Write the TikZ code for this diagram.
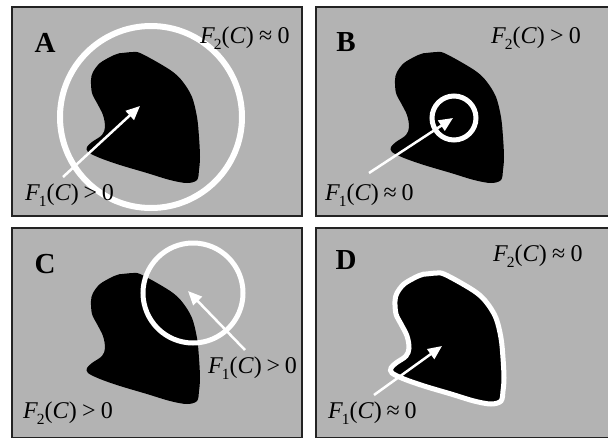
\documentclass[tikz,border=0pt]{standalone}
\usepackage{fontspec}
\setmainfont{Liberation Serif}
\usetikzlibrary{arrows.meta}
\definecolor{panelgray}{RGB}{179,179,179}
\definecolor{framedark}{RGB}{35,35,35}
\newcommand{\blobshape}[1]{\path[#1] plot[smooth cycle,tension=0.55] coordinates {(101,50) (106,48) (109,47) (111,47) (122,46) (129,47) (146,56) (162,66) (172,76) (181,91) (186,111) (188,131) (189,151) (188,164) (186,174) (176,177) (159,174) (136,167) (109,159) (89,152) (77,146) (76,141) (81,136) (91,129) (94,121) (92,109) (86,97) (81,87) (80,74) (82,66) (89,57)};}
\newcommand{\FF}[3]{\textit{F}\kern-0.05em\raisebox{-0.28em}{\fontsize{15.5}{15.5}\selectfont #1}(\textit{C})\kern#3em#2\kern#3em0}
\begin{document}
\begin{tikzpicture}[x=1pt,y=-1pt,
  panel/.style={fill=panelgray,draw=framedark,line width=2.5pt},
  ring/.style={draw=white},
  lab/.style={inner sep=0pt,font=\fontsize{24}{27}\selectfont},
  letter/.style={inner sep=0pt,font=\fontsize{29}{32}\selectfont\bfseries},
  warrow/.style={draw=white,line width=2.5pt,-{Triangle[length=14pt,width=12pt,fill=white]}}]
\useasboundingbox (0,0) rectangle (608,437);
\clip (0,0) rectangle (608,437);
% panels
\path[panel] (12,7) rectangle (302,216);
\path[panel] (316,7) rectangle (612,216);
\path[panel] (12,228) rectangle (302,438);
\path[panel] (316,228) rectangle (612,438);
% blobs
\begin{scope}[shift={(11,6)}]\blobshape{fill=black}\end{scope}
\begin{scope}[shift={(315,6)}]\blobshape{fill=black}\end{scope}
\begin{scope}[shift={(11,227)}]\blobshape{fill=black}\end{scope}
\begin{scope}[shift={(315,227)}]\blobshape{fill=black,draw=white,line width=5pt}\end{scope}
% rings
\draw[ring,line width=6pt] (151,117) circle[radius=91];
\draw[ring,line width=5pt] (454,118) circle[radius=22];
\draw[ring,line width=5pt] (193,293) circle[radius=50];
% letters
\node[letter] (la) at (45,43) {A};
\node[letter] (lb) at (346,42) {B};
\node[letter] (lc) at (45,264) {C};
\node[letter] (ld) at (346,260) {D};
% labels
\node[lab,anchor=base west] (fa2) at (200,43) {\FF{2}{≈}{0.22}};
\node[lab,anchor=base west] (fb2) at (491,43) {\FF{2}{>}{0.22}};
\node[lab,anchor=base west] (fc2) at (23,418) {\FF{2}{>}{0.22}};
\node[lab,anchor=base west] (fd2) at (493,261) {\FF{2}{≈}{0.22}};
\node[lab,anchor=base west] (fa1) at (25,200) {\FF{1}{>}{0.2}};
\node[lab,anchor=base west] (fb1) at (325,200) {\FF{1}{≈}{0.2}};
\node[lab,anchor=base west] (fc1) at (208,373) {\FF{1}{>}{0.2}};
\node[lab,anchor=base west] (fd1) at (328,418) {\FF{1}{≈}{0.2}};
% arrows
\coordinate (ta) at (63,177); \coordinate (ha) at (140,106);
\coordinate (tb) at (369,173); \coordinate (hb) at (453,118);
\coordinate (tc) at (245,350); \coordinate (hc) at (188,291);
\coordinate (td) at (374,395); \coordinate (hd) at (442,346);
\draw[warrow] (ta) -- (ha);
\draw[warrow] (tb) -- (hb);
\draw[warrow] (tc) -- (hc);
\draw[warrow] (td) -- (hd);
\end{tikzpicture}
\end{document}
